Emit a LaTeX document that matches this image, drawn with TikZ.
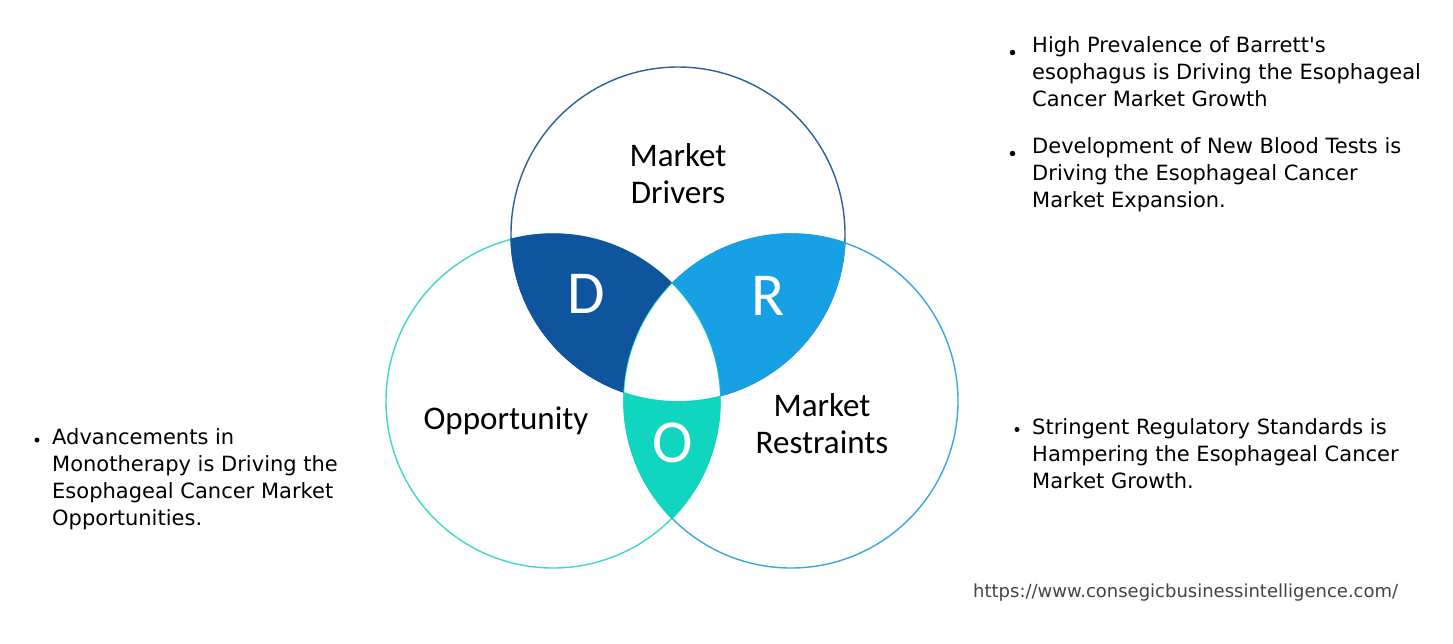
\documentclass[tikz,border=0pt]{standalone}
\usepackage{fontspec}
\setmainfont{DejaVu Sans}[Ligatures=TeXOff]
\newfontfamily\calfont{Carlito}
\definecolor{cTop}{HTML}{2E5E9C}
\definecolor{cLeft}{HTML}{3ED8C8}
\definecolor{cRight}{HTML}{3AA6DF}
\definecolor{fD}{HTML}{0E559E}
\definecolor{fR}{HTML}{17A0E3}
\definecolor{fO}{HTML}{10D6C0}
\definecolor{urlgray}{HTML}{444444}
\begin{document}
\begin{tikzpicture}[x=1pt,y=-1pt,
  ring/.style={circle, draw, line width=1.4pt, minimum size=334pt, inner sep=0pt},
  lbl/.style={font=\calfont\fontsize{33}{37}\selectfont, align=center, inner sep=0pt, text=black},
  big/.style={font=\calfont\fontsize{61}{64}\selectfont, inner sep=0pt, text=white},
  btxt/.style={font=\fontsize{21}{27}\selectfont, align=left, inner sep=0pt, anchor=north west, text=black},
  bdot/.style={circle, fill=black, inner sep=0pt, minimum size=5pt}]
\useasboundingbox (0,0) rectangle (1453,643);
\fill[white] (0,0) rectangle (1453,643);
% circles
\node[ring, draw=cTop] (T) at (678,234) {};
\node[ring, draw=cLeft] (L) at (553,401) {};
\node[ring, draw=cRight] (R) at (791,401) {};
% overlap regions
\begin{scope}
  \clip (T.center) circle[radius=167.7pt];
  \fill[fD] (L.center) circle[radius=167.7pt];
\end{scope}
\begin{scope}
  \clip (T.center) circle[radius=167.7pt];
  \fill[fR] (R.center) circle[radius=167.7pt];
\end{scope}
\begin{scope}
  \clip (L.center) circle[radius=167.7pt];
  \fill[fO] (R.center) circle[radius=167.7pt];
\end{scope}
\begin{scope}
  \clip (T.center) circle[radius=167pt];
  \clip (L.center) circle[radius=167pt];
  \fill[white] (R.center) circle[radius=167pt];
\end{scope}
% letters
\node[big] (dD) at (586,293.5) {D};
\node[big] (dR) at (768,296) {R};
\node[big] (dO) at (673,442.5) {O};
% labels
\node[lbl] (mD) at (678,174) {Market\\Drivers};
\node[lbl] (op) at (506,421) {Opportunity};
\node[lbl] (mR) at (822,424) {Market\\Restraints};
% bullet texts
\node[btxt] (t1) at (1032,36) {High Prevalence of Barrett's\\esophagus is Driving the Esophageal\\Cancer Market Growth};
\node[btxt] (t2) at (1032,137) {Development of New Blood Tests is\\Driving the Esophageal Cancer\\Market Expansion.};
\node[btxt] (t3) at (52,428) {Advancements in\\Monotherapy is Driving the\\Esophageal Cancer Market\\Opportunities.};
\node[btxt] (t4) at (1032,418) {Stringent Regulatory Standards is\\Hampering the Esophageal Cancer\\Market Growth.};
\node[bdot, minimum size=5.5pt] (b1) at (1012.5,52.5) {};
\node[bdot, minimum size=5.5pt] (b2) at (1012.5,153.5) {};
\node[bdot] (b3) at (37,440) {};
\node[bdot] (b4) at (1017,429.5) {};
% url
\node[font=\fontsize{18}{22}\selectfont, text=urlgray, anchor=west, inner sep=0pt] (url) at (973,593) {https://www.consegicbusinessintelligence.com/};
\end{tikzpicture}
\end{document}
